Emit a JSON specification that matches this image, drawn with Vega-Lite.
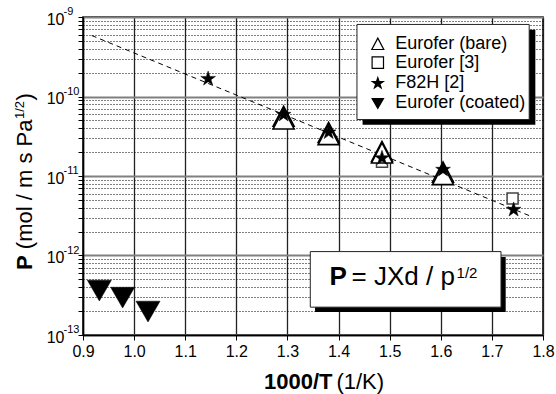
{
  "$schema": "https://vega.github.io/schema/vega-lite/v6.json",
  "width": 460,
  "height": 318,
  "autosize": {"type": "none"},
  "padding": {"left": 83, "top": 17, "right": 13, "bottom": 59},
  "background": "white",
  "config": {
    "view": {"stroke": "black", "strokeWidth": 1.5},
    "font": "Liberation Sans",
    "text": {"font": "Liberation Sans", "color": "black"}
  },
  "datasets": {
    "one": [{"k": 1}],
    "fit": [{"x": 0.917, "y": 5.85e-10}, {"x": 1.777, "y": 3.1e-12}],
    "pts": [
      {"x": 1.485, "y": 1.51e-11, "s": "e3"},
      {"x": 1.7405, "y": 5.2e-12, "s": "e3"},
      {"x": 1.2925, "y": 5.64e-11, "s": "bare"},
      {"x": 1.2925, "y": 5.22e-11, "s": "bare"},
      {"x": 1.3806, "y": 3.54e-11, "s": "bare"},
      {"x": 1.3806, "y": 3.31e-11, "s": "bare"},
      {"x": 1.485, "y": 2.04e-11, "s": "bare"},
      {"x": 1.485, "y": 1.95e-11, "s": "bare"},
      {"x": 1.6044, "y": 1.12e-11, "s": "bare"},
      {"x": 1.6044, "y": 1.04e-11, "s": "bare"},
      {"x": 1.1448, "y": 1.67e-10, "s": "f82h"},
      {"x": 1.2925, "y": 5.9e-11, "s": "f82h"},
      {"x": 1.3806, "y": 3.54e-11, "s": "f82h"},
      {"x": 1.485, "y": 1.68e-11, "s": "f82h"},
      {"x": 1.6044, "y": 1.2e-11, "s": "f82h"},
      {"x": 1.7425, "y": 3.77e-12, "s": "f82h"},
      {"x": 0.932, "y": 3.62e-13, "s": "coated"},
      {"x": 0.9775, "y": 2.95e-13, "s": "coated"},
      {"x": 1.0272, "y": 1.97e-13, "s": "coated"}
    ],
    "legend": [
      {"s": "bare", "label": "Eurofer (bare)", "y": 4.6e-10},
      {"s": "e3", "label": "Eurofer [3]", "y": 2.67e-10},
      {"s": "f82h", "label": "F82H [2]", "y": 1.465e-10},
      {"s": "coated", "label": "Eurofer (coated)", "y": 8.18e-11}
    ],
    "exps": [
      {"y": 1e-9, "t": "-9"},
      {"y": 1e-10, "t": "-10"},
      {"y": 1e-11, "t": "-11"},
      {"y": 1e-12, "t": "-12"},
      {"y": 1e-13, "t": "-13"}
    ]
  },
  "layer": [
    {
      "data": {"name": "fit"},
      "mark": {"type": "line", "color": "black", "strokeWidth": 1, "strokeDash": [5, 4]},
      "encoding": {
        "x": {
          "field": "x", "type": "quantitative",
          "scale": {"domain": [0.9, 1.8], "nice": false, "zero": false},
          "axis": {
            "title": null,
            "values": [0.9, 0.95, 1.0, 1.05, 1.1, 1.15, 1.2, 1.25, 1.3, 1.35, 1.4, 1.45, 1.5, 1.55, 1.6, 1.65, 1.7, 1.75, 1.8],
            "labelExpr": "abs(datum.value*10-round(datum.value*10))<0.001 ? format(datum.value,'.1f') : ''",
            "labelFont": "Liberation Sans", "labelFontSize": 16, "labelColor": "black",
            "labelPadding": 3, "labelFlush": false, "labelOverlap": false,
            "domainColor": "black", "domainWidth": 1.5,
            "tickColor": "black", "tickWidth": 1, "tickSize": 5,
            "grid": true,
            "gridColor": {"condition": {"test": "abs(datum.value*10-round(datum.value*10))<0.001", "value": "#222222"}, "value": "black"},
            "gridWidth": {"condition": {"test": "abs(datum.value*10-round(datum.value*10))<0.001", "value": 1.3}, "value": 1},
            "gridDash": {"condition": {"test": "abs(datum.value*10-round(datum.value*10))<0.001", "value": []}, "value": [1, 2]},
            "gridOpacity": 1
          }
        },
        "y": {
          "field": "y", "type": "quantitative",
          "scale": {"type": "log", "domain": [1e-13, 1e-9], "nice": false},
          "axis": {
            "title": null,
            "values": [1e-13, 2e-13, 3e-13, 4e-13, 5e-13, 6e-13, 7e-13, 8e-13, 9e-13,
                       1e-12, 2e-12, 3e-12, 4e-12, 5e-12, 6e-12, 7e-12, 8e-12, 9e-12,
                       1e-11, 2e-11, 3e-11, 4e-11, 5e-11, 6e-11, 7e-11, 8e-11, 9e-11,
                       1e-10, 2e-10, 3e-10, 4e-10, 5e-10, 6e-10, 7e-10, 8e-10, 9e-10, 1e-9],
            "labelExpr": "abs(log(datum.value)/LN10-round(log(datum.value)/LN10))<0.001 ? '10' : ''",
            "labelFont": "Liberation Sans", "labelFontSize": 16, "labelColor": "black",
            "labelPadding": 14, "labelBaseline": "middle", "labelOffset": 2, "labelFlush": false, "labelOverlap": false,
            "domainColor": "black", "domainWidth": 1.5,
            "tickColor": "black", "tickWidth": 1, "tickSize": 5,
            "grid": true,
            "gridColor": {"condition": {"test": "abs(log(datum.value)/LN10-round(log(datum.value)/LN10))<0.001", "value": "#808080"}, "value": "black"},
            "gridWidth": {"condition": {"test": "abs(log(datum.value)/LN10-round(log(datum.value)/LN10))<0.001", "value": 2}, "value": 1},
            "gridDash": {"condition": {"test": "abs(log(datum.value)/LN10-round(log(datum.value)/LN10))<0.001", "value": []}, "value": [1, 2]},
            "gridOpacity": 1
          }
        }
      }
    },
    {
      "data": {"name": "one"},
      "mark": {"type": "rect", "fill": "black"},
      "encoding": {"x": {"datum": 1.447}, "x2": {"datum": 1.785}, "y": {"datum": 6.9e-10}, "y2": {"datum": 4.41e-11}}
    },
    {
      "data": {"name": "one"},
      "mark": {"type": "rect", "fill": "white", "stroke": "#222222", "strokeWidth": 1},
      "encoding": {"x": {"datum": 1.436}, "x2": {"datum": 1.773}, "y": {"datum": 8.06e-10}, "y2": {"datum": 5.13e-11}}
    },
    {
      "data": {"name": "one"},
      "mark": {"type": "rect", "fill": "black"},
      "encoding": {"x": {"datum": 1.354}, "x2": {"datum": 1.727}, "y": {"datum": 9.6e-13}, "y2": {"datum": 1.94e-13}}
    },
    {
      "data": {"name": "one"},
      "mark": {"type": "rect", "fill": "white", "stroke": "#222222", "strokeWidth": 1},
      "encoding": {"x": {"datum": 1.3447}, "x2": {"datum": 1.7178}, "y": {"datum": 1.12e-12}, "y2": {"datum": 2.24e-13}}
    },
    {
      "data": {"name": "pts"},
      "transform": [{"filter": "datum.s == 'e3'"}],
      "mark": {"type": "point", "shape": "square", "size": 121, "fill": "white", "filled": false, "stroke": "#444444", "strokeWidth": 1.5, "opacity": 1},
      "encoding": {"x": {"field": "x", "type": "quantitative"}, "y": {"field": "y", "type": "quantitative"}}
    },
    {
      "data": {"name": "pts"},
      "transform": [{"filter": "datum.s == 'bare'"}],
      "mark": {"type": "point", "shape": "M0,-1L-1.05,1L1.05,1Z", "size": 400, "fill": "white", "filled": false, "stroke": "black", "strokeWidth": 1.6, "opacity": 1},
      "encoding": {"x": {"field": "x", "type": "quantitative"}, "y": {"field": "y", "type": "quantitative"}}
    },
    {
      "data": {"name": "pts"},
      "transform": [{"filter": "datum.s == 'f82h'"}],
      "mark": {"type": "point", "shape": "M0,-1L0.2245,-0.309L0.951,-0.309L0.3633,0.118L0.588,0.809L0,0.382L-0.588,0.809L-0.3633,0.118L-0.951,-0.309L-0.2245,-0.309Z", "size": 240, "fill": "black", "filled": false, "stroke": "black", "strokeWidth": 0.5, "opacity": 1},
      "encoding": {"x": {"field": "x", "type": "quantitative"}, "y": {"field": "y", "type": "quantitative"}}
    },
    {
      "data": {"name": "pts"},
      "transform": [{"filter": "datum.s == 'coated'"}],
      "mark": {"type": "point", "shape": "triangle-down", "size": 576, "fill": "black", "filled": false, "stroke": "black", "strokeWidth": 0.5, "opacity": 1},
      "encoding": {"x": {"field": "x", "type": "quantitative"}, "y": {"field": "y", "type": "quantitative"}}
    },
    {
      "data": {"name": "legend"},
      "mark": {"type": "point", "size": 130, "filled": false, "stroke": "black", "strokeWidth": 1.2, "opacity": 1},
      "encoding": {
        "x": {"datum": 1.4768},
        "y": {"field": "y", "type": "quantitative"},
        "shape": {"field": "s", "type": "nominal", "legend": null,
                  "scale": {"domain": ["bare", "e3", "f82h", "coated"], "range": ["M0,-1L-1.05,1L1.05,1Z", "square", "M0,-1L0.2245,-0.309L0.951,-0.309L0.3633,0.118L0.588,0.809L0,0.382L-0.588,0.809L-0.3633,0.118L-0.951,-0.309L-0.2245,-0.309Z", "triangle-down"]}},
        "fill": {"field": "s", "type": "nominal", "legend": null,
                 "scale": {"domain": ["bare", "e3", "f82h", "coated"], "range": ["white", "white", "black", "black"]}}
      }
    },
    {
      "data": {"name": "legend"},
      "mark": {"type": "text", "align": "left", "baseline": "middle", "fontSize": 18, "font": "Liberation Sans"},
      "encoding": {"x": {"datum": 1.511}, "y": {"field": "y", "type": "quantitative"}, "text": {"field": "label"}}
    },
    {
      "data": {"name": "exps"},
      "mark": {"type": "text", "align": "left", "baseline": "middle", "fontSize": 11, "dx": -19.5, "dy": -5, "font": "Liberation Sans"},
      "encoding": {"x": {"datum": 0.9}, "y": {"field": "y", "type": "quantitative"}, "text": {"field": "t"}}
    },
    {
      "data": {"name": "one"},
      "mark": {"type": "text", "text": "P", "fontWeight": "bold", "fontSize": 26, "align": "left", "baseline": "alphabetic"},
      "encoding": {"x": {"datum": 1.3825}, "y": {"datum": 4.26e-13}}
    },
    {
      "data": {"name": "one"},
      "mark": {"type": "text", "text": "= JXd / p", "fontSize": 26, "align": "left", "baseline": "alphabetic", "dx": 22},
      "encoding": {"x": {"datum": 1.3825}, "y": {"datum": 4.26e-13}}
    },
    {
      "data": {"name": "one"},
      "mark": {"type": "text", "text": "1/2", "fontSize": 15, "align": "left", "baseline": "alphabetic", "dx": 127, "dy": -7},
      "encoding": {"x": {"datum": 1.3825}, "y": {"datum": 4.26e-13}}
    },
    {
      "data": {"name": "one"},
      "mark": {"type": "text", "text": "1000/T", "fontWeight": "bold", "fontSize": 22, "align": "right", "baseline": "alphabetic", "dx": -1, "dy": 54},
      "encoding": {"x": {"datum": 1.39}, "y": {"datum": 1e-13}}
    },
    {
      "data": {"name": "one"},
      "mark": {"type": "text", "text": "(1/K)", "fontSize": 22, "align": "left", "baseline": "alphabetic", "dx": 3, "dy": 54},
      "encoding": {"x": {"datum": 1.39}, "y": {"datum": 1e-13}}
    },
    {
      "data": {"name": "one"},
      "mark": {"type": "text", "text": "P", "fontWeight": "bold", "fontSize": 22, "angle": 270, "align": "left", "baseline": "alphabetic", "dy": -51},
      "encoding": {"x": {"datum": 0.9}, "y": {"datum": 6.58e-13}}
    },
    {
      "data": {"name": "one"},
      "mark": {"type": "text", "text": "(mol / m s Pa", "fontSize": 22, "angle": 270, "align": "left", "baseline": "alphabetic", "dx": 20.8, "dy": -51},
      "encoding": {"x": {"datum": 0.9}, "y": {"datum": 6.58e-13}}
    },
    {
      "data": {"name": "one"},
      "mark": {"type": "text", "text": "1/2", "fontSize": 13, "angle": 270, "align": "left", "baseline": "alphabetic", "dx": 150.9, "dy": -59},
      "encoding": {"x": {"datum": 0.9}, "y": {"datum": 6.58e-13}}
    },
    {
      "data": {"name": "one"},
      "mark": {"type": "text", "text": ")", "fontSize": 22, "angle": 270, "align": "left", "baseline": "alphabetic", "dx": 169.5, "dy": -51},
      "encoding": {"x": {"datum": 0.9}, "y": {"datum": 6.58e-13}}
    }
  ]
}
